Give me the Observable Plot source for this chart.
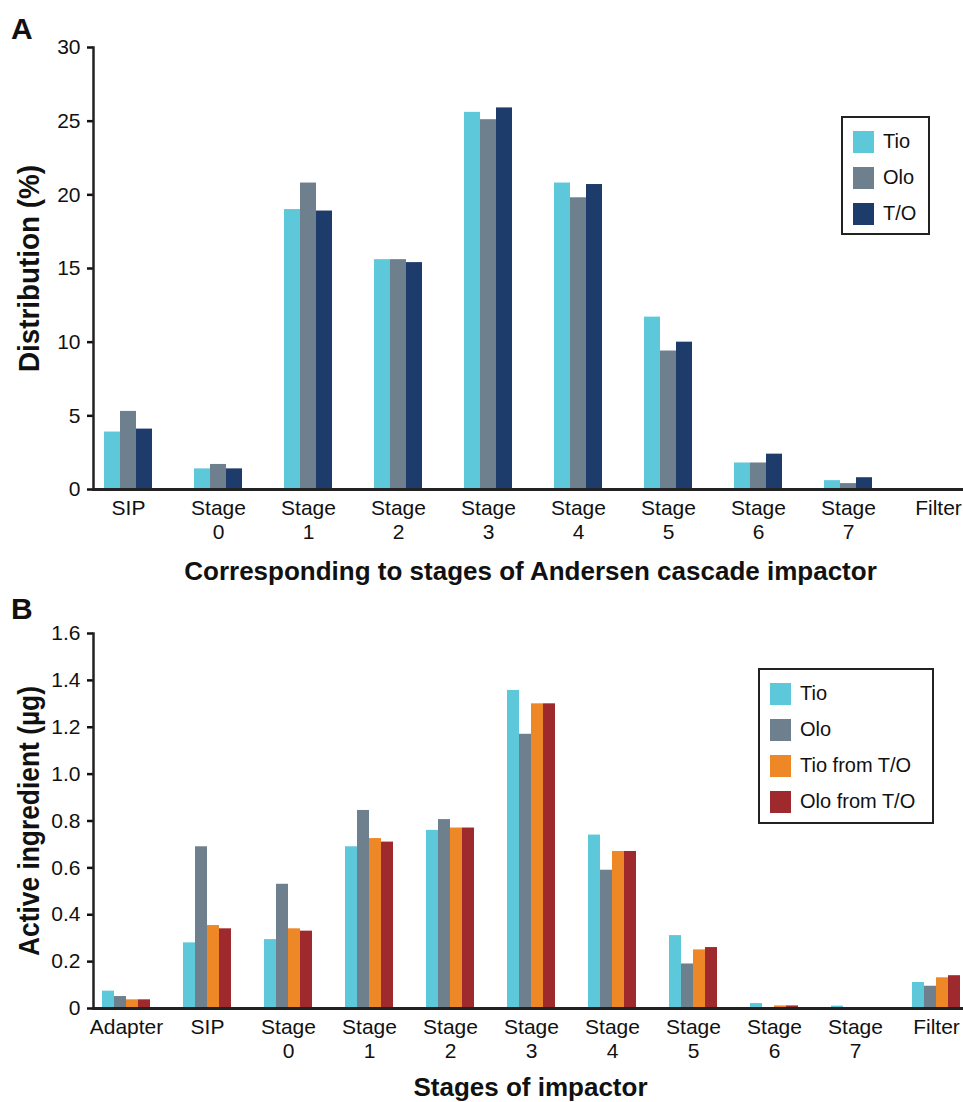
<!DOCTYPE html>
<html>
<head>
<meta charset="utf-8">
<script src="https://cdn.jsdelivr.net/npm/d3@7"></script>
<script src="https://cdn.jsdelivr.net/npm/@observablehq/plot@0.6"></script>
<style>
  html, body { margin: 0; padding: 0; background: #fff; overflow: hidden; }
  #wrap { position: relative; width: 963px; height: 1102px; overflow: hidden; font-family: "Liberation Sans", Arial, sans-serif; color: #111; }
  .panel { position: absolute; left: 0; max-width: none !important; }
  .letter { position: absolute; font-weight: bold; font-size: 30px; line-height: 34px; }
  .legend { position: absolute; border: 2px solid #222; background: #fff; box-sizing: border-box; font-size: 20px; }
  .legend .row { position: absolute; display: flex; align-items: center; }
  .legend .sw { width: 21px; height: 22px; margin-right: 9px; }
  g[aria-label="x-axis label"] text { font-weight: bold; font-size: 26px; }
  g[aria-label="y-axis label"] text { font-weight: bold; font-size: 29px; }
</style>
</head>
<body>
<div id="wrap"></div>
<script>
// ---------- Panel A data ----------
const catsA = ["SIP", "Stage 0", "Stage 1", "Stage 2", "Stage 3", "Stage 4", "Stage 5", "Stage 6", "Stage 7", "Filter"];
const seriesA = ["Tio", "Olo", "T/O"];
const tioA = [3.9, 1.4, 19.0, 15.6, 25.6, 20.8, 11.7, 1.8, 0.6, 0];
const oloA = [5.3, 1.7, 20.8, 15.6, 25.1, 19.8, 9.4, 1.8, 0.4, 0];
const toA  = [4.1, 1.4, 18.9, 15.4, 25.9, 20.7, 10.0, 2.4, 0.8, 0];
const colorsA = ["#5cc8da", "#6e808d", "#1e3c6b"];
const yTicksA = [0, 5, 10, 15, 20, 25, 30];

// ---------- Panel B data ----------
const catsB = ["Adapter", "SIP", "Stage 0", "Stage 1", "Stage 2", "Stage 3", "Stage 4", "Stage 5", "Stage 6", "Stage 7", "Filter"];
const seriesB = ["Tio", "Olo", "Tio from T/O", "Olo from T/O"];
const tioB    = [0.074, 0.28, 0.294, 0.69, 0.76, 1.357, 0.74, 0.311, 0.021, 0.01, 0.111];
const oloB    = [0.051, 0.69, 0.53, 0.845, 0.806, 1.17, 0.59, 0.19, 0.002, 0, 0.095];
const tioToB  = [0.037, 0.354, 0.34, 0.725, 0.77, 1.30, 0.67, 0.25, 0.011, 0, 0.131];
const oloToB  = [0.037, 0.34, 0.33, 0.71, 0.77, 1.30, 0.67, 0.26, 0.011, 0, 0.14];
const colorsB = ["#5cc8da", "#6e808d", "#ee8726", "#9e2a2e"];
const yTicksB = [0, 0.2, 0.4, 0.6, 0.8, 1.0, 1.2, 1.4, 1.6];

const valsA = [tioA, oloA, toA];
const valsB = [tioB, oloB, tioToB, oloToB];

function table(cats, series, vals) {
  return cats.flatMap((c, i) => series.map((s, j) => ({cat: c, series: s, value: vals[j][i]})));
}

function groupedBars(data, series, groupWidth) {
  const bw = groupWidth / series.length;
  return series.map((s, j) => Plot.barY(data.filter(d => d.series === s), {
    x: "cat", y: "value", fill: "series",
    insetLeft: j * bw, insetRight: (series.length - 1 - j) * bw
  }));
}

const wrap = document.getElementById("wrap");

function panel(opts) {
  const {cats, series, vals, colors, yDomain, yTicks, yFormat, yLabel, xLabel,
         width, height, marginTop, marginBottom, xRange, step, top, yLabelOffset, xLabelOffset, yLabelLength} = opts;
  const data = table(cats, series, vals);
  const pInner = 1 - 48 / step;
  const chart = Plot.plot({
    width, height,
    marginTop, marginBottom, marginLeft: 93, marginRight: 33,
    style: {fontFamily: '"Liberation Sans", Arial, sans-serif', fontSize: "21px", color: "#111", background: "#fff", overflow: "visible"},
    x: {domain: cats, range: xRange, paddingInner: pInner, paddingOuter: pInner / 2},
    y: {domain: yDomain},
    color: {domain: series, range: colors},
    marks: [
      ...groupedBars(data, series, 48),
      Plot.axisX({tickSize: 0, tickPadding: 8, lineHeight: 1.15, tickFormat: d => d.replace(" ", "\n"), label: xLabel, labelAnchor: "center", labelOffset: xLabelOffset}),
      Plot.axisY({ticks: yTicks, tickFormat: yFormat, tickSize: 6, tickPadding: 7, strokeWidth: 2.5, label: yLabel, labelArrow: "none", labelAnchor: "center", labelOffset: yLabelOffset}),
      Plot.frame({anchor: "left", stroke: "#222", strokeWidth: 2.5}),
      Plot.frame({anchor: "bottom", stroke: "#222", strokeWidth: 3})
    ]
  });
  chart.classList.add("panel");
  chart.style.top = top + "px";
  wrap.appendChild(chart);
  const yl = chart.querySelector('g[aria-label="y-axis label"] text');
  if (yl) {
    yl.setAttribute("textLength", yLabelLength);
    yl.setAttribute("lengthAdjust", "spacingAndGlyphs");
  }
}

panel({
  cats: catsA, series: seriesA, vals: valsA, colors: colorsA,
  yDomain: [0, 30], yTicks: yTicksA, yFormat: d => String(d),
  yLabel: "Distribution (%)", xLabel: "Corresponding to stages of Andersen cascade impactor",
  width: 1000, height: 600, marginTop: 47, marginBottom: 111,
  xRange: [83, 983], step: 90, top: 0, yLabelOffset: 75, xLabelOffset: 90, yLabelLength: 207
});

panel({
  cats: catsB, series: seriesB, vals: valsB, colors: colorsB,
  yDomain: [0, 1.6], yTicks: yTicksB, yFormat: d => d === 0 ? "0" : d.toFixed(1),
  yLabel: "Active ingredient (µg)", xLabel: "Stages of impactor",
  width: 1000, height: 502, marginTop: 33, marginBottom: 94,
  xRange: [82.25, 978.75], step: 81.5, top: 600, yLabelOffset: 75, xLabelOffset: 87, yLabelLength: 270
});

// panel letters
function letter(t, x, y) {
  const d = document.createElement("div");
  d.className = "letter"; d.textContent = t;
  d.style.left = x + "px"; d.style.top = y + "px";
  wrap.appendChild(d);
}
letter("A", 11, 12);
letter("B", 11, 592);

// legends
function legend(series, colors, x, y, w, h, rowTop, rowStep, swX) {
  const box = document.createElement("div");
  box.className = "legend";
  Object.assign(box.style, {left: x + "px", top: y + "px", width: w + "px", height: h + "px"});
  series.forEach((s, i) => {
    const row = document.createElement("div");
    row.className = "row";
    row.style.left = swX + "px";
    row.style.top = (rowTop + i * rowStep) + "px";
    const sw = document.createElement("div");
    sw.className = "sw"; sw.style.background = colors[i];
    const lab = document.createElement("span");
    lab.textContent = s;
    row.appendChild(sw); row.appendChild(lab);
    box.appendChild(row);
  });
  wrap.appendChild(box);
}
legend(seriesA, colorsA, 841, 116, 89, 119, 12, 36, 10);
legend(seriesB, colorsB, 758, 668, 176, 156, 12, 36, 10);
</script>
</body>
</html>
